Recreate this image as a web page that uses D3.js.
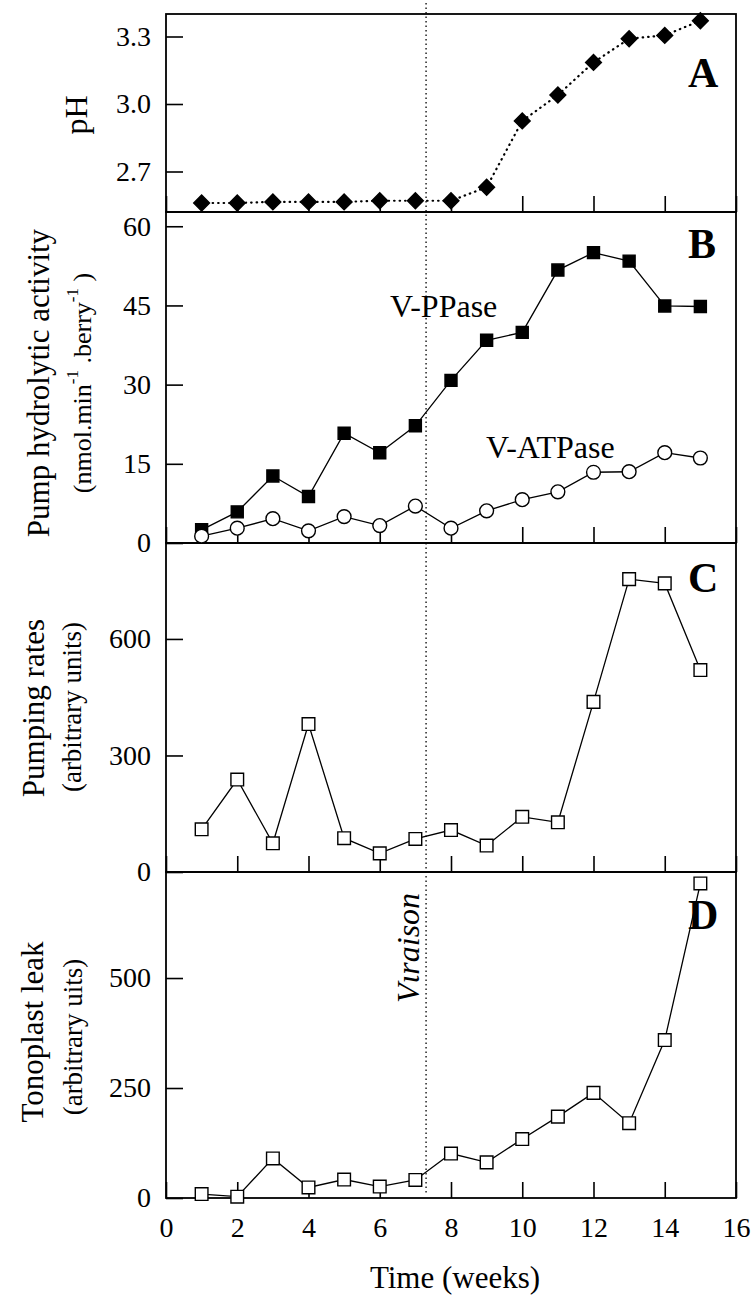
<!DOCTYPE html>
<html>
<head>
<meta charset="utf-8">
<script src="https://cdn.jsdelivr.net/npm/d3@7/dist/d3.min.js"></script>
<style>
  body { margin: 0; background: #fff; }
  svg text { font-family: "Liberation Serif", "Times New Roman", serif; fill: #000; }
</style>
</head>
<body>
<div id="chart"></div>
<script>
// data (weeks after flowering)
var weeks = [1, 2, 3, 4, 5, 6, 7, 8, 9, 10, 11, 12, 13, 14, 15];
var phValues = [2.56, 2.56, 2.565, 2.565, 2.565, 2.57, 2.57, 2.57, 2.63, 2.925, 3.04, 3.185, 3.29, 3.305, 3.37];
var ppaseValues = [2.5, 5.9, 12.7, 8.8, 20.8, 17.1, 22.2, 30.8, 38.4, 39.9, 51.7, 55.0, 53.4, 44.9, 44.8];
var atpaseValues = [1.3, 2.8, 4.6, 2.3, 5.0, 3.3, 7.0, 2.8, 6.1, 8.2, 9.7, 13.4, 13.5, 17.1, 16.1];
var pumpingValues = [110, 238, 74, 381, 87, 48, 85, 108, 68, 142, 128, 438, 754, 743, 520];
var leakValues = [9, 3, 90, 24, 42, 26, 41, 101, 81, 134, 185, 239, 170, 359, 715];

var xTicks = [0, 2, 4, 6, 8, 10, 12, 14, 16];
var phTicks = [2.7, 3.0, 3.3];
var pumpTicks = [0, 15, 30, 45, 60];
var rateTicks = [0, 300, 600];
var leakTicks = [0, 250, 500];
var veraisonWeek = 7.3;

var width = 755, height = 1299;
var left = 166, right = 736;
var serif = '"Liberation Serif", "Times New Roman", serif';

var svg = d3.select('#chart')
            .append('svg')
            .attr('width', width)
            .attr('height', height);

var xScale = d3.scaleLinear().domain([0, 16]).range([left, right]);

// four stacked panels sharing the x axis
var panels = [
  {name: 'A', top: 14, bottom: 212, domain: [2.52, 3.4], ticks: phTicks, fmt: d3.format('.1f')},
  {name: 'B', top: 212, bottom: 543, domain: [0, 62.7], ticks: pumpTicks, fmt: d3.format('d')},
  {name: 'C', top: 543, bottom: 872, domain: [0, 847], ticks: rateTicks, fmt: d3.format('d')},
  {name: 'D', top: 872, bottom: 1198, domain: [0, 741], ticks: leakTicks, fmt: d3.format('d')}
];

panels.forEach(function(p, i) {
  p.y = d3.scaleLinear().domain(p.domain).range([p.bottom, p.top]);

  // y axis, ticks pointing inward
  var yAxis = d3.axisLeft(p.y)
    .tickValues(p.ticks)
    .tickFormat(p.fmt)
    .tickSize(-17)
    .tickPadding(15);
  var gy = svg.append('g')
    .attr('transform', 'translate(' + left + ',0)')
    .call(yAxis)
    .attr('font-family', serif);
  gy.select('.domain').remove();
  gy.selectAll('line').attr('stroke-width', 1.6);
  gy.selectAll('text').style('font-size', '28px');

  // x ticks inward at every panel bottom, labels only on the last one
  var last = i === panels.length - 1;
  var xAxis = d3.axisBottom(xScale)
    .tickValues(xTicks)
    .tickSize(-16)
    .tickPadding(19)
    .tickFormat(last ? d3.format('d') : '');
  var gx = svg.append('g')
    .attr('transform', 'translate(0,' + p.bottom + ')')
    .call(xAxis)
    .attr('font-family', serif);
  gx.select('.domain').remove();
  gx.selectAll('line').attr('stroke-width', 1.6);
  gx.selectAll('text').style('font-size', '28px');

  // frame
  svg.append('rect')
    .attr('x', left)
    .attr('y', p.top)
    .attr('width', right - left)
    .attr('height', p.bottom - p.top)
    .attr('fill', 'none')
    .attr('stroke', '#000')
    .attr('stroke-width', 1.8);

  svg.append('text')
    .attr('x', 688)
    .attr('y', [87, 258, 592, 929][i])
    .style('font-size', '42px')
    .style('font-weight', 'bold')
    .text(p.name);
});

// veraison marker
svg.append('line')
  .attr('x1', xScale(veraisonWeek))
  .attr('x2', xScale(veraisonWeek))
  .attr('y1', 3)
  .attr('y2', 1194)
  .attr('stroke', '#000')
  .attr('stroke-width', 1.3)
  .attr('stroke-dasharray', '1.5,3');

svg.append('text')
  .attr('transform', 'translate(408,948) rotate(-90)')
  .attr('text-anchor', 'middle')
  .attr('dominant-baseline', 'central')
  .style('font-size', '32px')
  .style('font-style', 'italic')
  .text('V\u03b9raison');

function drawLine(values, yScale, dash) {
  var line = d3.line()
    .x(function(d, i) { return xScale(weeks[i]); })
    .y(function(d) { return yScale(d); });
  var path = svg.append('path')
    .datum(values)
    .attr('d', line)
    .attr('fill', 'none')
    .attr('stroke', '#000')
    .attr('stroke-width', dash ? 2.2 : 1.3);
  if (dash) {
    path.attr('stroke-dasharray', dash).attr('stroke-linecap', 'round');
  }
}

function drawSymbols(values, yScale, shape, size, fill, rot) {
  svg.selectAll(null)
    .data(values)
    .enter()
    .append('path')
    .attr('d', d3.symbol().type(shape).size(size))
    .attr('transform', function(d, i) {
      return 'translate(' + xScale(weeks[i]) + ',' + yScale(d) + ')' + (rot ? ' rotate(' + rot + ')' : '');
    })
    .attr('fill', fill)
    .attr('stroke', '#000')
    .attr('stroke-width', 1.4);
}

// A: pH
drawLine(phValues, panels[0].y, '0.5,5');
drawSymbols(phValues, panels[0].y, d3.symbolSquare, 125, '#000', 45);

// B: hydrolytic activity
drawLine(ppaseValues, panels[1].y);
drawLine(atpaseValues, panels[1].y);
drawSymbols(ppaseValues, panels[1].y, d3.symbolSquare, 144, '#000');
drawSymbols(atpaseValues, panels[1].y, d3.symbolCircle, 150, '#fff');

// C: pumping rates
drawLine(pumpingValues, panels[2].y);
drawSymbols(pumpingValues, panels[2].y, d3.symbolSquare, 160, '#fff');

// D: tonoplast leak
drawLine(leakValues, panels[3].y);
drawSymbols(leakValues, panels[3].y, d3.symbolSquare, 160, '#fff');

svg.append('text').attr('x', 390).attr('y', 317).style('font-size', '32px').text('V-PPase');
svg.append('text').attr('x', 486).attr('y', 458).style('font-size', '32px').text('V-ATPase');

// axis titles
function vTitle(x, y, size, txt) {
  return svg.append('text')
    .attr('transform', 'translate(' + x + ',' + y + ') rotate(-90)')
    .attr('text-anchor', 'middle')
    .attr('dominant-baseline', 'central')
    .style('font-size', size + 'px')
    .text(txt);
}

vTitle(76, 115, 32, 'pH');
vTitle(38, 383, 31, 'Pump hydrolytic activity');
var unit = vTitle(82, 383, 26, '(nmol.min');
unit.append('tspan').attr('dy', -10).style('font-size', '17px').text('-1');
unit.append('tspan').attr('dy', 10).text(' .berry');
unit.append('tspan').attr('dy', -10).style('font-size', '17px').text('-1');
unit.append('tspan').attr('dy', 10).text(' )');
vTitle(33, 708, 31, 'Pumping rates');
vTitle(72, 707, 27, '(arbitrary units)');
vTitle(32, 1032, 31, 'Tonoplast leak');
vTitle(73, 1037, 27, '(arbitrary uits)');

svg.append('text')
  .attr('x', 455)
  .attr('y', 1288)
  .attr('text-anchor', 'middle')
  .style('font-size', '31px')
  .text('Time (weeks)');

svg.selectAll('text').style('font-family', serif);
</script>
</body>
</html>
